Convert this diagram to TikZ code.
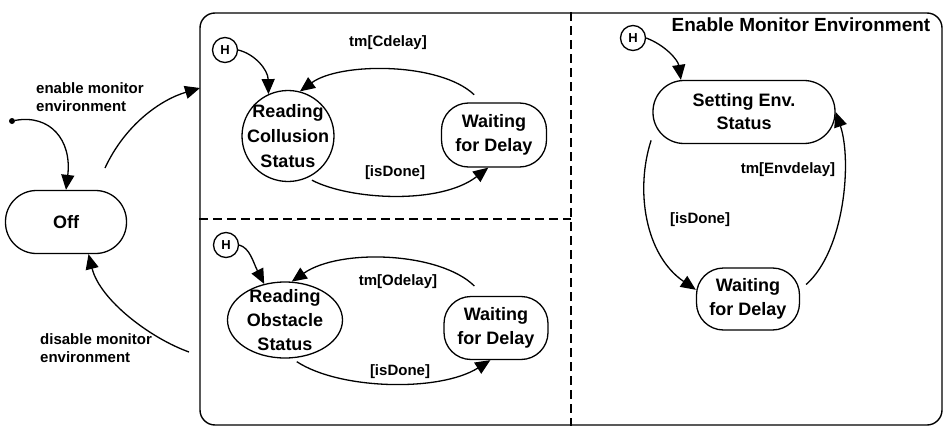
\documentclass[tikz,border=0pt]{standalone}
\usepackage{fontspec}
\setmainfont{Liberation Sans}
\usetikzlibrary{arrows.meta,shapes.geometric}
\begin{document}
\begin{tikzpicture}[x=1pt,y=-1pt,
  every node/.style={font=\bfseries},
  ln/.style={line width=1.3pt},
  tr/.style={ln,-{Triangle[length=15pt,width=13pt]}},
  st/.style={draw,ln,rectangle,align=center,inner sep=1pt,font=\bfseries\fontsize{18}{24}\selectfont},
  el/.style={draw,ln,ellipse,align=center,inner sep=-20pt,font=\bfseries\fontsize{18}{25}\selectfont},
  hist/.style={draw,ln,circle,minimum size=25pt,inner sep=0pt,font=\bfseries\fontsize{13}{13}\selectfont},
  lab/.style={font=\bfseries\fontsize{15}{18}\selectfont,inner sep=0pt},
  dsh/.style={line width=1.4pt,dash pattern=on 9pt off 5pt}]
\useasboundingbox (0,0) rectangle (946,431);

% outer superstate
\node[draw,line width=1.4pt,rounded corners=15pt,minimum width=742pt,minimum height=412pt,inner sep=0pt] (outer) at (571,219) {};
\draw[dsh] (outer.north) -- (outer.south);
\draw[dsh] (outer.west) -- (outer.center);
\node[font=\bfseries\fontsize{19}{22}\selectfont,inner sep=0pt] (title) at (801,25) {Enable Monitor Environment};

% Off state
\node[st,rounded corners=31pt,minimum width=121pt,minimum height=63pt] (off) at (66,222) {Off};
\node[circle,fill=black,inner sep=0pt,minimum size=6pt] (init) at (12,121) {};
\draw[tr] (init) .. controls (50,114) and (72,140) .. (off.north);

\coordinate (e1) at (105,168);
\coordinate (enIn) at (200,88);
\draw[tr] (e1) .. controls (125,125) and (160,100) .. (enIn);
\node[lab,align=left,anchor=west] (enlab) at (36,97) {enable monitor\\environment};

\coordinate (disOut) at (189,352);
\draw[tr] (disOut) .. controls (150,338) and (100,300) .. (off.-55);
\node[lab,align=left,anchor=west] (dislab) at (40,348) {disable monitor\\environment};

% collision region
\node[hist] (h1) at (225,50) {H};
\node[el,minimum width=92pt,minimum height=91pt] (rc) at (288,136) {Reading\\Collusion\\Status};
\node[st,rounded corners=27pt,minimum width=105pt,minimum height=64pt] (w1) at (494,135) {Waiting\\for Delay};
\draw[tr] (h1.east) .. controls (255,54) and (268,70) .. (rc.115);
\draw[tr,shorten <=11pt] (w1.110) .. controls (440,62) and (340,62) .. (rc.75);
\node[lab] (l1) at (388,43) {tm[Cdelay]};
\draw[tr,shorten <=5pt] (rc.-65) .. controls (350,200) and (440,205) .. (w1.-100);
\node[lab] (l2) at (395,173) {[isDone]};

% obstacle region
\node[hist] (h2) at (226,245) {H};
\node[el,minimum width=115pt,minimum height=76pt,font=\bfseries\fontsize{18}{24}\selectfont] (ro) at (285,320) {Reading\\Obstacle\\Status};
\node[st,rounded corners=27pt,minimum width=104pt,minimum height=63pt] (w2) at (496,328) {Waiting\\for Delay};
\draw[tr] (h2.east) .. controls (250,248) and (253,262) .. (ro.120);
\draw[tr,shorten <=14pt] (w2.110) .. controls (440,252) and (340,248) .. (ro.80);
\node[lab] (l3) at (398,282) {tm[Odelay]};
\draw[tr,shorten <=6pt] (ro.-80) .. controls (340,390) and (440,392) .. (w2.-100);
\node[lab] (l4) at (400,372) {[isDone]};

% environment region
\node[hist] (h3) at (633,38) {H};
\node[st,rounded corners=31pt,minimum width=182pt,minimum height=63pt,font=\bfseries\fontsize{18}{23}\selectfont] (se) at (744,112) {Setting Env.\\Status};
\node[st,rounded corners=27pt,minimum width=103pt,minimum height=62pt] (w3) at (748,299) {Waiting\\for Delay};
\draw[tr] (h3.east) .. controls (665,45) and (678,60) .. (se.153);
\draw[tr,shorten <=4pt] (se.195) .. controls (635,190) and (645,255) .. (w3.170);
\node[lab] (l5) at (700,220) {[isDone]};
\draw[tr,shorten <=8pt] (w3.10) .. controls (845,250) and (852,160) .. (se.east);
\node[lab] (l6) at (788,170) {tm[Envdelay]};
\end{tikzpicture}
\end{document}
